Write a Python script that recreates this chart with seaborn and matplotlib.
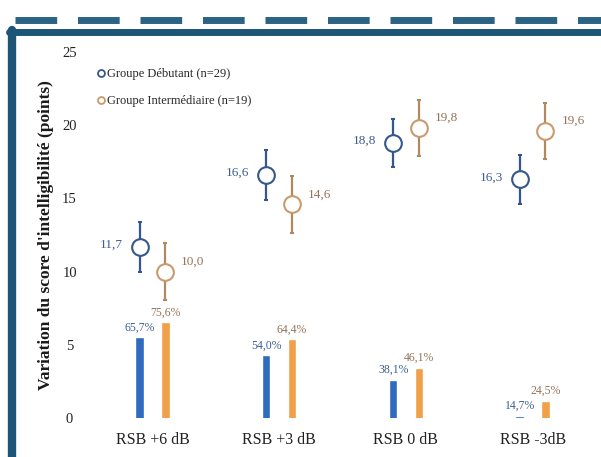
import matplotlib
matplotlib.use("Agg")
import matplotlib.pyplot as plt
import seaborn as sns
import pandas as pd
from matplotlib.lines import Line2D

# ---- data ----
conditions = ["RSB +6 dB", "RSB +3 dB", "RSB 0 dB", "RSB -3dB"]
groups = ["Groupe Débutant (n=29)", "Groupe Intermédiaire (n=19)"]
mean_deb = [11.7, 16.6, 18.8, 16.3]
err_deb = [1.7, 1.7, 1.65, 1.65]
mean_int = [10.0, 14.6, 19.8, 19.6]
err_int = [1.95, 1.95, 1.9, 1.9]
pct_deb = [65.7, 54.0, 38.1, 14.7]
pct_int = [75.6, 64.4, 46.1, 24.5]
yticks = [0, 5, 10, 15, 20, 25]

def fr(v, d=1):
    return f"{v:.{d}f}".replace(".", ",")

sns.set_theme(style="white")
plt.rcParams['font.family'] = ['Liberation Serif', 'DejaVu Serif']

blue_pt = "#34578c"
blue_bar = "#2f6bbf"
blue_txt = "#3d5f8f"
or_pt = "#c99a6c"
or_bar = "#f0a048"
or_txt = "#94735a"

fig = plt.figure(figsize=(6.01, 4.57), dpi=100)
W, H = 601, 457
left, right, top, bot = 89, 596, 52, 418
ax = fig.add_axes([left / W, (H - bot) / H, (right - left) / W, (bot - top) / H])

# bars on a hidden twin scale
ax2 = ax.twinx()
df = pd.DataFrame({
    "cond": conditions * 2,
    "group": [groups[0]] * 4 + [groups[1]] * 4,
    "pct": pct_deb + pct_int,
})
sns.barplot(data=df, x="cond", y="pct", hue="group", order=conditions,
            hue_order=groups, palette=[blue_bar, or_bar], width=0.41, gap=0.68,
            saturation=1, ax=ax2, legend=False, zorder=2)
ax2.set_ylim(13.4, 251)
ax2.set_yticks([])
ax2.set_ylabel("")
ax2.set_xlabel("")
for i in range(4):
    ax2.text(i - 0.1, pct_deb[i] + 2.5, fr(pct_deb[i]) + "%", ha="center", va="bottom",
             fontsize=8.5, color=blue_txt)
    ax2.text(i + 0.1, pct_int[i] + 2.5, fr(pct_int[i]) + "%", ha="center", va="bottom",
             fontsize=8.5, color=or_txt)

x = list(range(4))
xd = [v - 0.1 for v in x]
xi = [v + 0.1 for v in x]
ax.errorbar(xd, mean_deb, yerr=err_deb, fmt="o", ms=12, mfc="white", mec=blue_pt,
            mew=1.5, ecolor=blue_pt, elinewidth=1.6, capsize=1.2, capthick=1.6, zorder=3)
ax.errorbar(xi, mean_int, yerr=err_int, fmt="o", ms=12, mfc="white", mec=or_pt,
            mew=1.5, ecolor="#b08960", elinewidth=1.6, capsize=1.2, capthick=1.6, zorder=3)
for i in range(4):
    ax.annotate(fr(mean_deb[i]), (xd[i], mean_deb[i]), xytext=(-17, 2),
                textcoords="offset pixels", ha="right", va="center",
                fontsize=9.5, color=blue_txt)
    ax.annotate(fr(mean_int[i]), (xi[i], mean_int[i]), xytext=(16, 10),
                textcoords="offset pixels", ha="left", va="center",
                fontsize=9.5, color=or_txt)

ax.set_xlim(-0.5, 3.5)
ax.set_ylim(0, 25)
ax.set_yticks(yticks)
ax.set_yticklabels([str(t) for t in yticks], fontsize=10.5, color="#222222", ha="center")
ax.set_xticks(x)
ax.set_xticklabels(conditions, fontsize=11.5, color="#222222")
ax.tick_params(axis="both", length=0)
ax.tick_params(axis="y", pad=14)
ax.tick_params(axis="x", pad=10)
ax.set_ylabel("Variation du score d'intelligibilité (points)", fontsize=12.5,
              fontweight="bold", color="#1a1a1a", labelpad=6)
for a in (ax, ax2):
    for s in a.spines.values():
        s.set_visible(False)

handles = [Line2D([], [], marker="o", ls="", ms=5, mfc="white", mec=blue_pt, mew=1.3),
           Line2D([], [], marker="o", ls="", ms=5, mfc="white", mec=or_pt, mew=1.3)]
ax.legend(handles, groups, loc="upper left", bbox_to_anchor=(0.018, 0.955),
          frameon=False, fontsize=9, handlelength=0.5, handletextpad=0.2,
          labelspacing=1.2, borderpad=0, borderaxespad=0)

# decorative border
fig.add_artist(Line2D([12 / W, 12 / W], [0, (H - 30) / H], color="#1d5576", lw=6,
                      transform=fig.transFigure))
fig.add_artist(Line2D([9 / W, 1], [(H - 32) / H, (H - 32) / H], color="#1d5576", lw=5,
                      transform=fig.transFigure))
fig.add_artist(Line2D([15 / W, 1], [(H - 20) / H, (H - 20) / H], color="#2a6384", lw=5,
                      dashes=(6, 3), transform=fig.transFigure))

fig.savefig("out.png", dpi=100)
